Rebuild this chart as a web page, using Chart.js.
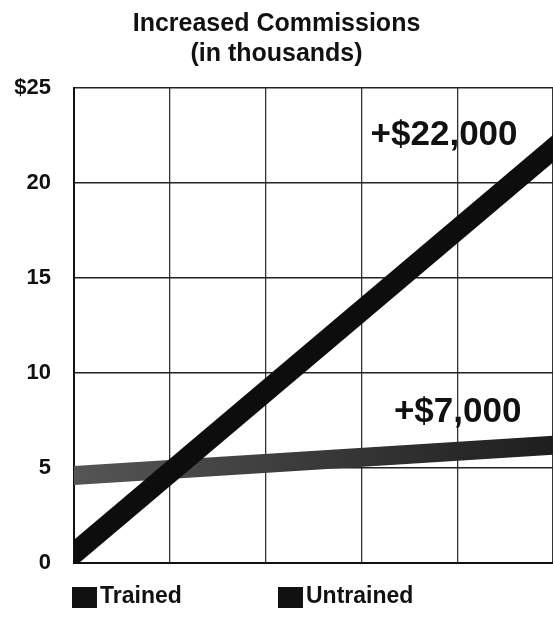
<!DOCTYPE html>
<html>
<head>
<meta charset="utf-8">
<script src="https://cdn.jsdelivr.net/npm/chart.js@4/dist/chart.umd.min.js"></script>
<style>
  html, body { margin: 0; padding: 0; background: #fff; }
  #wrap { position: relative; width: 553px; height: 626px; }
</style>
</head>
<body>
<div id="wrap"><canvas id="chart" width="553" height="626"></canvas></div>
<script>
// values (thousands of dollars)
const periods = [0, 5];
const trained = [0.5, 21.8];
const untrained = [4.6, 6.2];
const seriesNames = ['Trained', 'Untrained'];
const gainLabels = ['+$22,000', '+$7,000'];
const titleLines = ['Increased Commissions', '(in thousands)'];

const FONT = "'Liberation Sans', Arial, sans-serif";

// big gain numbers next to the line ends
const gainText = {
    id: 'gainText',
    afterDatasetsDraw(chart) {
        const { ctx, scales: { x, y } } = chart;
        const spots = [[4.63, 22.5], [4.67, 7.95]];
        ctx.save();
        ctx.font = 'bold 35px ' + FONT;
        ctx.fillStyle = '#111';
        ctx.textAlign = 'right';
        ctx.textBaseline = 'middle';
        gainLabels.forEach((t, i) => {
            ctx.fillText(t, x.getPixelForValue(spots[i][0]), y.getPixelForValue(spots[i][1]));
        });
        ctx.restore();
    }
};

// legend squares under the plot
const bottomLegend = {
    id: 'bottomLegend',
    afterDraw(chart) {
        const { ctx, chartArea } = chart;
        const starts = [chartArea.left - 2, chartArea.left + 204];
        const top = chartArea.bottom + 24;
        ctx.save();
        ctx.font = 'bold 23px ' + FONT;
        ctx.textBaseline = 'middle';
        chart.data.datasets.forEach((ds, i) => {
            ctx.fillStyle = '#111';
            ctx.fillRect(starts[i], top, 25, 21);
            ctx.fillText(ds.label, starts[i] + 28, top + 10);
        });
        ctx.restore();
    }
};

// the untrained band is greyer on the left, darker on the right
function untrainedColor(context) {
    const area = context.chart.chartArea;
    if (!area) return '#3a3a3a';
    const g = context.chart.ctx.createLinearGradient(area.left, 0, area.right, 0);
    g.addColorStop(0, '#555');
    g.addColorStop(1, '#1e1e1e');
    return g;
}

new Chart(document.getElementById('chart').getContext('2d'), {
    type: 'line',
    data: {
        datasets: [
            {
                label: seriesNames[0],
                data: periods.map((p, i) => ({ x: p, y: trained[i] })),
                borderColor: '#0d0d0d',
                borderWidth: 21,
                borderCapStyle: 'square',
                pointRadius: 0,
                clip: 0
            },
            {
                label: seriesNames[1],
                data: periods.map((p, i) => ({ x: p, y: untrained[i] })),
                borderColor: untrainedColor,
                borderWidth: 19,
                borderCapStyle: 'square',
                pointRadius: 0,
                clip: 0
            }
        ]
    },
    options: {
        responsive: false,
        animation: false,
        layout: { padding: { left: 0, right: 0, top: 0, bottom: 63 } },
        plugins: {
            legend: { display: false },
            tooltip: { enabled: false },
            title: {
                display: true,
                text: titleLines,
                color: '#111',
                font: { family: FONT, size: 25, weight: 'bold', lineHeight: 1.2 },
                padding: { top: 9, bottom: 19 }
            }
        },
        scales: {
            x: {
                type: 'linear',
                min: 0,
                max: 5,
                ticks: { display: false, stepSize: 1 },
                grid: { color: '#333', lineWidth: 1.3, drawTicks: false },
                border: { color: '#111', width: 2 },
                afterFit(scale) { scale.height = 0; }
            },
            y: {
                min: 0,
                max: 25,
                ticks: {
                    stepSize: 5,
                    padding: 23,
                    color: '#111',
                    font: { family: FONT, size: 22, weight: 'bold' },
                    callback: v => (v === 25 ? '$25' : v)
                },
                grid: { color: '#222', lineWidth: 1.6, drawTicks: false },
                border: { color: '#111', width: 2 },
                afterFit(scale) { scale.width = 74; }
            }
        }
    },
    plugins: [gainText, bottomLegend]
});
</script>
</body>
</html>
